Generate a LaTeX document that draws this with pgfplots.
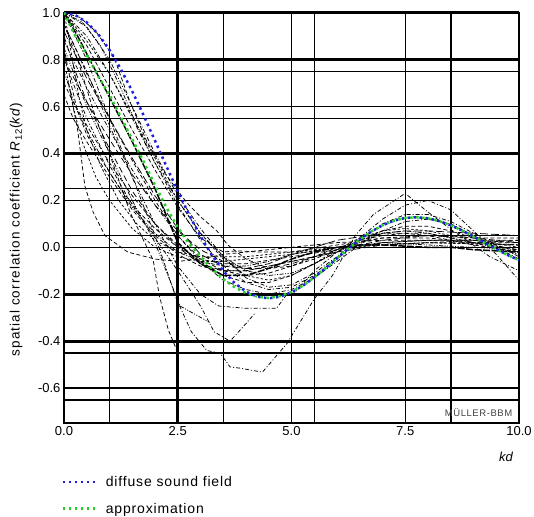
\documentclass[border=0pt]{standalone}
\usepackage{fontspec}
\setmainfont{Liberation Sans}
\newfontfamily\spfont[LetterSpace=6]{Liberation Sans}
\newfontfamily\ylfont[LetterSpace=8]{Liberation Sans}
\usepackage{pgfplots}
\pgfplotsset{compat=1.18}
\definecolor{dblue}{RGB}{30,30,225}
\definecolor{dgreen}{RGB}{40,205,40}
\pgfplotsset{
 c/.style={black, line width=0.75bp, forget plot},
 d1/.style={c, dash pattern=on 4bp off 2.5bp},
 d2/.style={c, dash pattern=on 6bp off 3.5bp},
 d3/.style={c, dash pattern=on 4bp off 2bp on 1bp off 2bp},
 d4/.style={c, dash pattern=on 4bp off 1.5bp on 1bp off 1.5bp on 1bp off 1.5bp},
 d5/.style={c, dash pattern=on 2.5bp off 2bp},
 d6/.style={c, dash pattern=on 8bp off 3bp},
}
\begin{document}
\begin{tikzpicture}
\begin{axis}[
 scale only axis,
 width=455bp, height=410.6bp,
 xmin=0, xmax=10, ymin=-0.75, ymax=1.0,
 axis line style={line width=2bp},
 xtick={0,2.5,5,7.5,10},
 ytick={-0.6,-0.4,-0.2,0,0.2,0.4,0.6,0.8,1.0},
 major tick length=0pt, minor tick length=0pt,
 minor xtick={1,3.5,5,5.5,7.5,8.5},
 minor ytick={0.75,0.6,0.55,0.25,0.2,0.05,0,-0.45,-0.6,-0.65},
 xminorgrids, yminorgrids,
 minor grid style={black, line width=1.5bp},
 extra x ticks={2.5}, extra x tick labels={},
 extra y ticks={1.0,0.8,0.4,-0.2,-0.4}, extra y tick labels={},
 extra tick style={grid=major, major grid style={black, line width=2.8bp}},
 /pgf/number format/.cd, fixed, fixed zerofill, precision=1, assume math mode=true,
 /pgfplots/.cd,
 ticklabel style={font=\fontsize{13bp}{15bp}\selectfont},
 ylabel={spatial correlation coefficient \textit{R}\textsubscript{12}(\textit{kd})},
 ylabel style={at={(axis description cs:-0.105,0.472)}, anchor=center, font=\ylfont\fontsize{13.5bp}{15bp}\selectfont},
 xlabel={\textit{kd}},
 xlabel style={at={(axis description cs:0.972,-0.082)}, anchor=center, font=\fontsize{13bp}{15bp}\selectfont},
 legend style={draw=none, fill=none, at={(axis description cs:-0.013,-0.119)}, anchor=north west, font=\spfont\fontsize{14bp}{16bp}\selectfont, row sep=11bp},
 legend cell align=left,
 legend image code/.code={\draw[#1, line width=2.6bp, dash pattern=on 2.6bp off 3.4bp] (0bp,0bp) -- (34bp,0bp); \path (40bp,0bp);},
]
% measured curves
\addplot[d1] coordinates {(0,1.0) (0.35,0.98) (0.7,0.92) (1.1,0.81) (1.45,0.62) (1.8,0.46) (2.2,0.32) (2.7,0.19) (3.0,0.13) (3.36,0.07) (3.6,0.01) (4.0,-0.05) (4.5,-0.09) (5.0,-0.08) (5.5,-0.05) (6,-0.01) (6.5,0.03) (7,0.05) (7.5,0.06) (8,0.05) (8.5,0.03) (9,0.01) (10,-0.02)};
\addplot[d3] coordinates {(0,1.0) (0.5,0.94) (1,0.8) (1.5,0.6) (2,0.4) (2.5,0.22) (3,0.08) (3.5,-0.04) (4,-0.13) (4.5,-0.17) (5,-0.16) (5.5,-0.11) (6,-0.04) (6.5,0.04) (7,0.12) (7.5,0.18) (8,0.2) (8.5,0.16) (9,0.07) (9.5,-0.03) (10,-0.14)};
\addplot[d5] coordinates {(0,1.0) (0.5,0.88) (1,0.74) (1.5,0.56) (2,0.38) (2.5,0.2) (3,0.06) (3.5,-0.05) (4,-0.12) (4.5,-0.14) (5,-0.12) (5.5,-0.07) (6,-0.01) (6.5,0.04) (7,0.07) (7.5,0.08) (8,0.07) (8.5,0.05) (9,0.03) (10,0.0)};
\addplot[c, line width=1.5bp, dash pattern=on 7bp off 1.5bp] coordinates {(0,1.0) (0.3,0.9) (0.7,0.75) (1,0.64) (1.5,0.45) (2,0.25) (2.5,0.02) (3,-0.07) (3.5,-0.12) (4,-0.12) (4.5,-0.09) (5,-0.05) (5.5,-0.02) (6,0.0) (6.5,0.01) (7,0.01) (7.5,0.005) (8,0.0) (8.5,0.0) (9,-0.01) (10,-0.02)};
\addplot[d1] coordinates {(0,0.95) (0.25,0.85) (0.5,0.74) (1,0.55) (1.5,0.37) (2,0.2) (2.5,0.05) (3,-0.05) (3.5,-0.1) (4,-0.12) (4.5,-0.11) (5,-0.08) (5.5,-0.04) (6,0.0) (7,0.04) (8,0.04) (9,0.02) (10,0.01)};
\addplot[d2] coordinates {(0,0.9) (0.25,0.75) (0.5,0.62) (1,0.42) (1.5,0.24) (2,0.1) (2.5,0.0) (3,-0.07) (3.5,-0.1) (4,-0.1) (4.5,-0.08) (5,-0.06) (6,-0.02) (7,0.01) (8,0.02) (9,0.02) (10,0.03)};
\addplot[d1] coordinates {(0,0.95) (0.3,0.8) (0.7,0.55) (1.0,0.4) (1.45,0.15) (1.96,-0.055) (2.1,-0.21) (2.29,-0.35) (2.48,-0.44) (2.52,-0.48)};
\addplot[d3] coordinates {(0,1.0) (0.5,0.8) (1.0,0.55) (1.5,0.3) (2.0,0.05) (2.47,-0.22) (2.8,-0.36) (3.14,-0.44) (3.43,-0.45) (3.65,-0.51) (3.87,-0.515) (4.3,-0.53) (4.37,-0.53) (4.9,-0.41) (5.5,-0.22) (5.9,-0.12) (6.4,0.05) (6.8,0.14) (7.5,0.23) (8.0,0.15) (8.55,0.07) (9.36,-0.04) (10,-0.1)};
\addplot[d4] coordinates {(0,0.85) (0.5,0.6) (1,0.4) (1.5,0.2) (2,0.02) (2.55,-0.25) (3.2,-0.32)};
\addplot[d3] coordinates {(0,0.95) (0.5,0.75) (1,0.52) (1.5,0.3) (2,0.1) (2.5,-0.08) (3,-0.2) (3.4,-0.25) (4.0,-0.26) (4.4,-0.26) (4.67,-0.26) (4.9,-0.2) (5.04,-0.2) (5.5,-0.1) (6,-0.02) (7,0.06) (8,0.06) (9,0.02) (10,-0.01)};
\addplot[d3] coordinates {(0,0.8) (0.5,0.55) (1,0.35) (1.5,0.18) (2,0.04) (2.5,-0.1) (3.0,-0.25) (3.3,-0.36) (3.65,-0.40) (4.0,-0.325) (4.2,-0.28)};
\addplot[d1] coordinates {(0.1,0.7) (0.3,0.5) (0.46,0.26) (0.64,0.15) (0.9,0.05) (1.4,-0.02) (2.0,-0.05) (2.5,-0.06) (3.0,-0.05) (3.5,-0.03) (4,-0.02) (5,0.0) (6,0.02) (7,0.03) (8,0.03) (9,0.02) (10,0.02)};
\addplot[d4] coordinates {(0,0.75) (0.25,0.6) (0.5,0.5) (1,0.32) (1.5,0.17) (2,0.06) (2.5,-0.02) (3,-0.06) (3.5,-0.08) (4,-0.08) (4.5,-0.06) (5,-0.03) (6,0.0) (7,0.02) (8,0.01) (9,0.0) (10,-0.01)};
\addplot[d1] coordinates {(0,0.65) (0.2,0.55) (0.5,0.45) (1.0,0.3) (1.5,0.16) (2,0.05) (2.5,-0.03) (3,-0.08) (3.5,-0.1) (4,-0.1) (5,-0.06) (6,-0.02) (7,0.02) (8,0.03) (9,0.03) (10,0.02)};
\addplot[d3] coordinates {(0,1.0) (0.5,0.9) (1,0.74) (1.5,0.55) (2,0.36) (2.5,0.18) (3,0.03) (3.5,-0.08) (4,-0.15) (4.5,-0.18) (5,-0.17) (5.5,-0.12) (6,-0.05) (6.5,0.03) (7,0.1) (7.5,0.14) (8,0.14) (8.5,0.11) (9,0.06) (9.5,0.01) (10,-0.04)};
\addplot[d2] coordinates {(0,0.8) (0.5,0.62) (1,0.46) (1.5,0.31) (2,0.18) (2.5,0.07) (3,-0.01) (3.5,-0.06) (4,-0.09) (4.5,-0.09) (5,-0.07) (5.5,-0.04) (6,-0.01) (7,0.03) (8,0.05) (8.5,0.05) (9,0.04) (10,0.02)};
\addplot[d4] coordinates {(0,1.0) (0.4,0.96) (0.8,0.86) (1.2,0.7) (1.6,0.52) (2.0,0.36) (2.5,0.2) (3.0,0.06) (3.5,-0.04) (4.0,-0.1) (4.5,-0.12) (5,-0.11) (5.5,-0.07) (6,-0.02) (6.5,0.03) (7,0.06) (7.5,0.07) (8,0.06) (9,0.02) (10,-0.03)};
\addplot[d1] coordinates {(0,0.7) (0.2,0.62) (0.5,0.52) (1,0.36) (1.5,0.22) (2,0.1) (2.5,0.01) (3,-0.06) (3.5,-0.12) (4,-0.15) (4.5,-0.15) (5,-0.12) (5.5,-0.07) (6,-0.02) (6.5,0.03) (7,0.07) (7.5,0.09) (8,0.09) (8.5,0.07) (9,0.04) (10,-0.02)};
\addplot[d3] coordinates {(0,0.88) (0.5,0.68) (1,0.5) (1.5,0.33) (2,0.18) (2.5,0.05) (3,-0.06) (3.5,-0.14) (4,-0.18) (4.5,-0.2) (5,-0.18) (5.5,-0.13) (6,-0.06) (6.5,0.01) (7,0.07) (7.5,0.11) (8,0.12) (8.5,0.1) (9,0.05) (10,-0.05)};
\addplot[d1] coordinates {(0,1.0) (0.5,0.86) (1,0.68) (1.5,0.5) (2,0.33) (2.5,0.17) (3,0.04) (3.5,-0.02) (3.8,-0.015) (4.3,-0.02) (5,-0.02) (6,0.01) (7,0.04) (8,0.05) (9,0.04) (10,0.04)};
\addplot[d6] coordinates {(0,0.92) (0.5,0.72) (1,0.55) (1.5,0.38) (2,0.22) (2.5,0.08) (3,-0.03) (3.5,-0.08) (4,-0.09) (4.5,-0.07) (5,-0.03) (5.5,0.0) (6,0.03) (7,0.06) (7.5,0.07) (8,0.07) (9,0.06) (10,0.05)};
\addplot[d5] coordinates {(0.05,0.75) (0.2,0.6) (0.4,0.45) (0.7,0.3) (1.0,0.2) (1.5,0.08) (2,0.0) (2.5,-0.04) (3,-0.06) (3.5,-0.06) (4,-0.05) (5,-0.03) (6,0.0) (7,0.01) (8,0.02) (10,0.01)};
\addplot[d5] coordinates {(0,1.0) (0.1,0.9) (0.2,0.78) (0.35,0.62) (0.5,0.5) (0.8,0.35) (1.2,0.2) (1.6,0.1) (2,0.03) (2.5,-0.02) (3,-0.04) (4,-0.04) (5,-0.02) (6,0.0) (7,0.01) (8,0.02) (10,0.01)};
\addplot[d1] coordinates {(0,0.85) (0.15,0.7) (0.3,0.58) (0.5,0.48) (0.8,0.38) (1.2,0.26) (1.6,0.16) (2.0,0.08) (2.5,0.0) (3,-0.05) (3.5,-0.07) (4,-0.07) (5,-0.04) (6,-0.01) (7,0.02) (8,0.03) (9,0.03) (10,0.03)};
% diffuse sound field
\addplot[dblue, line width=2.5bp, dash pattern=on 2.5bp off 3.5bp] coordinates {(0,1) (0.25,0.98962) (0.5,0.95885) (0.75,0.90885) (1.0,0.84147) (1.25,0.75919) (1.5,0.665) (1.75,0.56228) (2.0,0.45465) (2.25,0.34581) (2.5,0.23939) (2.75,0.13879) (3.0,0.04704) (3.25,-0.03329) (3.5,-0.10022) (3.75,-0.15242) (4.0,-0.1892) (4.25,-0.21059) (4.5,-0.21723) (4.75,-0.21038) (5.0,-0.19178) (5.25,-0.16361) (5.5,-0.12828) (5.75,-0.0884) (6.0,-0.04657) (6.25,-0.00531) (6.5,0.0331) (6.75,0.06667) (7.0,0.09386) (7.25,0.11353) (7.5,0.12507) (7.75,0.12834) (8.0,0.12367) (8.25,0.11183) (8.5,0.09394) (8.75,0.0714) (9.0,0.04579) (9.25,0.0188) (9.5,-0.00791) (9.75,-0.03273) (10,-0.0544)};
\addlegendentry{diffuse sound field}
% approximation
\addplot[dgreen, line width=2.5bp, dash pattern=on 2.5bp off 3.5bp] coordinates {(0,1.0) (0.25,0.9) (0.5,0.82) (0.75,0.73) (1.0,0.65) (1.25,0.555) (1.5,0.46) (1.75,0.365) (2.0,0.265) (2.25,0.17) (2.5,0.085) (2.75,0.015) (3.0,-0.04) (3.25,-0.09) (3.5,-0.135) (3.75,-0.17) (4.0,-0.195) (4.25,-0.21) (4.5,-0.216) (4.75,-0.208) (5.0,-0.19) (5.25,-0.16361) (5.5,-0.12828) (5.75,-0.0884) (6.0,-0.04657) (6.25,-0.00531) (6.5,0.0331) (6.75,0.06667) (7.0,0.09386) (7.25,0.11353) (7.5,0.12507) (7.75,0.12834) (8.0,0.12367) (8.25,0.11183) (8.5,0.09394) (8.75,0.0714) (9.0,0.04579) (9.25,0.0188) (9.5,-0.00791) (9.75,-0.03273) (10,-0.0544)};
\addlegendentry{approximation}
\node[anchor=east, font=\spfont\fontsize{9.5bp}{10bp}\selectfont, text=black!75] at (axis description cs:0.993,0.025) {MÜLLER-BBM};
\end{axis}
\pgfresetboundingbox
\path[use as bounding box] ([shift={(-64bp,-93.7bp)}]current axis.south west) rectangle ([shift={(15bp,12.7bp)}]current axis.north east);
\end{tikzpicture}
\end{document}
